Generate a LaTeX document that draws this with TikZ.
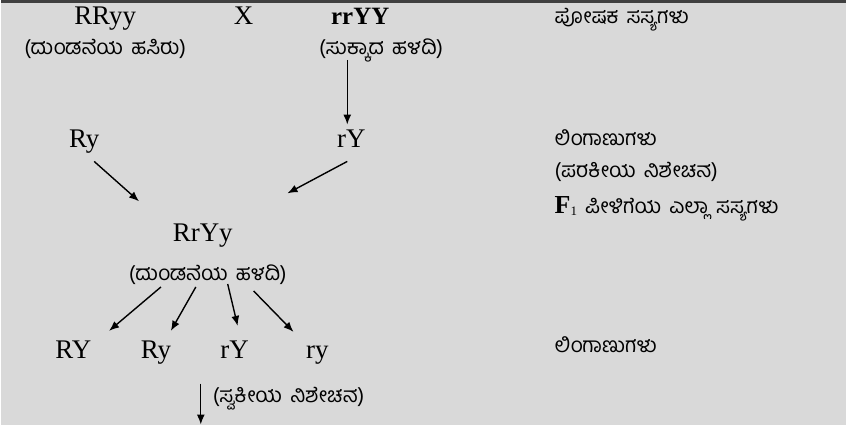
\documentclass[tikz,border=0pt]{standalone}
\usepackage{fontspec}
\setmainfont{Liberation Serif}
\newfontfamily\kannada[Script=Kannada, WordSpace=1.6]{Hind Mysuru}
\usetikzlibrary{arrows.meta}

\tikzset{
    gene/.style={inner sep=0pt, anchor=base, font=\fontsize{27}{29}\selectfont},
    kntext/.style={inner sep=0pt, text height=13pt, text depth=5pt,
                   font=\kannada\fontsize{21}{23}\selectfont},
    sidenote/.style={kntext, anchor=west},
    cross/.style={->, line width=1.4pt}
}

\begin{document}
\begin{tikzpicture}[x=1pt, y=-1pt, >={Latex[length=10pt, width=8pt]}]
    \fill[gray!30] (0,0) rectangle (847,427);
    \draw[line width=3pt, black!75] (0,1.5) -- (847,1.5);
    \useasboundingbox (0,0) rectangle (847,427);

    % parents
    \node[gene] (pa) at (104,25) {RRyy};
    \node[gene] (times) at (243,25) {X};
    \node[gene, font=\bfseries\fontsize{25}{27}\selectfont] (pb) at (360,25) {rrYY};
    \node[kntext] (pades) at (104,51) {(ದುಂಡನೆಯ ಹಸಿರು)};
    \node[kntext] (pbdes) at (381,51) {(ಸುಕ್ಕಾದ ಹಳದಿ)};

    % gametes and F1
    \node[gene] (ga) at (83,148) {Ry};
    \node[gene] (gb) at (351,148) {rY};
    \node[gene] (hy) at (202,242) {RrYy};
    \node[kntext] (hydes) at (207,277) {(ದುಂಡನೆಯ ಹಳದಿ)};

    % F1 gametes
    \node[gene] (g1) at (72,360) {RY};
    \node[gene] (g2) at (155,360) {Ry};
    \node[gene] (g3) at (234,360) {rY};
    \node[gene] (g4) at (317,360) {ry};
    \coordinate (selfend) at (200,426);
    \node[sidenote] (selfdes) at (212,400) {(ಸ್ವಕೀಯ ನಿಶೇಚನ)};

    % right column
    \node[sidenote] (lparent) at (555,20) {ಪೋಷಕ ಸಸ್ಯಗಳು};
    \node[sidenote] (lgam) at (555,142) {ಲಿಂಗಾಣುಗಳು};
    \node[sidenote] (lcross) at (555,174) {(ಪರಕೀಯ ನಿಶೇಚನ)};
    \node[sidenote] (lf) at (555,210) {{\rmfamily\bfseries\fontsize{26}{28}\selectfont F}\raisebox{-2pt}{\rmfamily\fontsize{13}{14}\selectfont 1} ಪೀಳಿಗೆಯ ಎಲ್ಲಾ ಸಸ್ಯಗಳು};
    \node[sidenote] (lgam2) at (555,350) {ಲಿಂಗಾಣುಗಳು};

    % arrows
    \draw[cross] ([xshift=-34pt]pbdes.south) -- (347,125);
    \draw[cross] ([shift={(10,14)}]ga.base) -- ([shift={(-64,-40)}]hy.base);
    \draw[cross] ([shift={(-4,14)}]gb.base) -- ([shift={(85,-48)}]hy.base);
    \draw[cross] ([shift={(-47,11)}]hydes.center) -- ([shift={(36,-28)}]g1.base);
    \draw[cross] ([shift={(-12,11)}]hydes.center) -- ([shift={(15,-28)}]g2.base);
    \draw[cross] ([shift={(20,8)}]hydes.center) -- ([shift={(3,-33)}]g3.base);
    \draw[cross] ([shift={(46,15)}]hydes.center) -- ([shift={(-24,-27)}]g4.base);
    \draw[cross] ([shift={(-34,25)}]g3.base) -- (selfend);
\end{tikzpicture}
\end{document}
